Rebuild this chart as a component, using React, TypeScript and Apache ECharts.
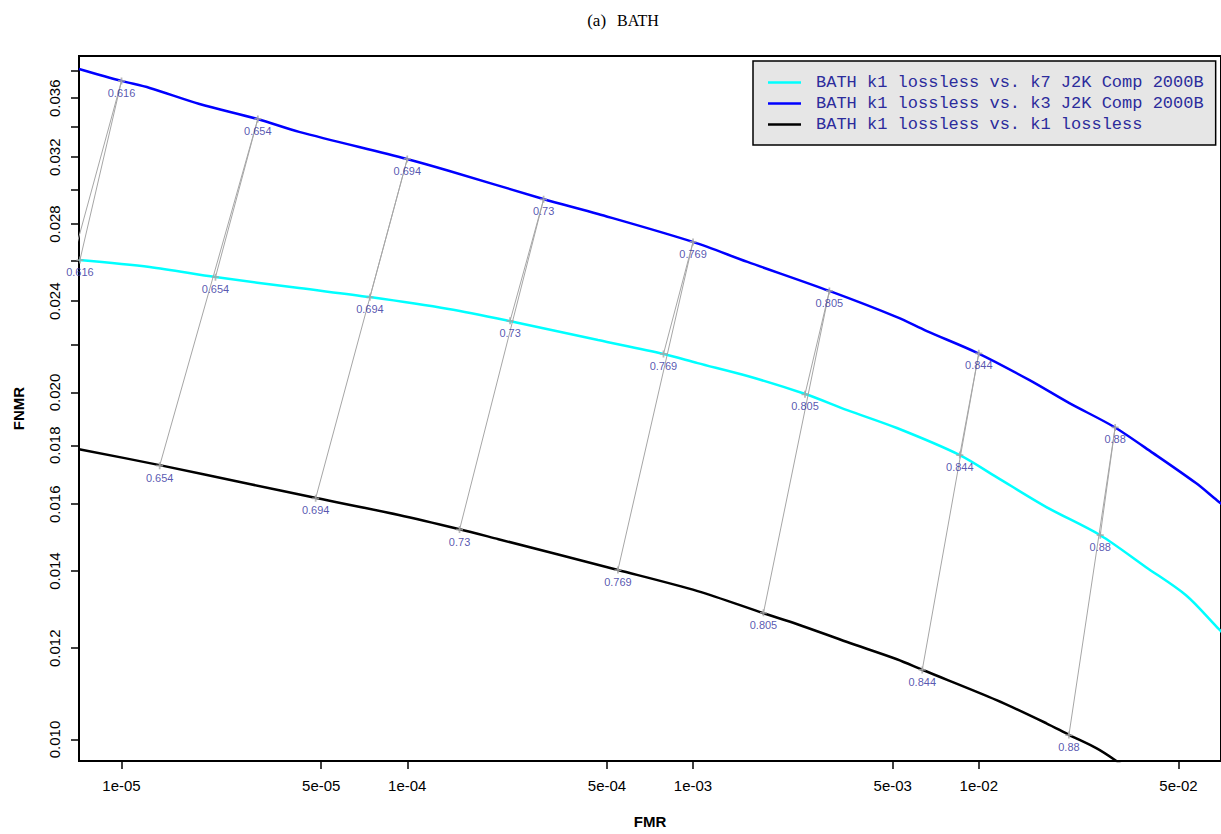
import React, { useEffect, useRef } from "react";
import * as echarts from "echarts";

// ---- Curves (FMR, FNMR) ----
const cyanName = "BATH k1 lossless vs. k7 J2K Comp 2000B";
const blueName = "BATH k1 lossless vs. k3 J2K Comp 2000B";
const blackName = "BATH k1 lossless vs. k1 lossless";

const cyanFMR = [7.10e-6, 1.255e-5, 2.132e-5, 4.184e-5, 7.40e-5, 1.395e-4, 2.277e-4, 4.653e-4, 7.90e-4, 1.038e-3, 1.551e-3, 2.470e-3, 3.462e-3, 5.17e-3, 8.58e-3, 1.154e-2, 1.724e-2, 2.661e-2, 3.848e-2, 5.31e-2, 6.81e-2, 7.378e-2];
const cyanFNMR = [0.02606, 0.02570, 0.02519, 0.02464, 0.02420, 0.02363, 0.02307, 0.02221, 0.02160, 0.02121, 0.02067, 0.01994, 0.01931, 0.01863, 0.01765, 0.01689, 0.01591, 0.01504, 0.01411, 0.01334, 0.01252, 0.01227];

const blueFMR = [7.10e-6, 1.0e-5, 1.255e-5, 1.875e-5, 2.987e-5, 4.184e-5, 9.96e-5, 1.395e-4, 2.991e-4, 4.653e-4, 9.98e-4, 1.551e-3, 2.997e-3, 5.17e-3, 6.58e-3, 9.91e-3, 1.505e-2, 2.075e-2, 2.977e-2, 4.073e-2, 5.752e-2, 6.808e-2, 7.378e-2];
const blueFNMR = [0.03817, 0.03727, 0.03675, 0.03559, 0.03454, 0.03366, 0.03189, 0.03115, 0.02944, 0.02857, 0.02702, 0.02596, 0.02450, 0.02325, 0.02261, 0.02164, 0.02050, 0.01958, 0.01867, 0.01772, 0.01669, 0.01613, 0.01588];

const blackFMR = [7.10e-6, 1.360e-5, 2.803e-5, 4.80e-5, 9.34e-5, 1.524e-4, 2.085e-4, 5.46e-4, 1.038e-3, 1.764e-3, 2.318e-3, 3.462e-3, 5.17e-3, 6.37e-3, 1.154e-2, 1.724e-2, 2.075e-2, 2.577e-2, 2.977e-2, 3.553e-2];
const blackFNMR = [0.01786, 0.01730, 0.01666, 0.01620, 0.01566, 0.01522, 0.01492, 0.01403, 0.01345, 0.01287, 0.01259, 0.01215, 0.01174, 0.01149, 0.01082, 0.01033, 0.01009, 0.00983, 0.00961, 0.00931];

// ---- Threshold points ----
const thresholds = ["0.616", "0.654", "0.694", "0.73", "0.769", "0.805", "0.844", "0.88"];
const blueTFMR = [1e-5, 3e-5, 1e-4, 3e-4, 1e-3, 3e-3, 1e-2, 3e-2];
const blueTFNMR = [0.03727, 0.03454, 0.03189, 0.02942, 0.02702, 0.02450, 0.02163, 0.01865];
const cyanTFMR = [7.155e-6, 2.132e-5, 7.40e-5, 2.290e-4, 7.88e-4, 2.465e-3, 8.58e-3, 2.661e-2];
const cyanTFNMR = [0.02606, 0.02518, 0.02419, 0.02308, 0.02160, 0.01993, 0.01765, 0.01504];
const blackTFMR = [4.565e-6, 1.360e-5, 4.78e-5, 1.524e-4, 5.46e-4, 1.764e-3, 6.34e-3, 2.067e-2];
const blackTFNMR = [0.01830, 0.01728, 0.01619, 0.01521, 0.01403, 0.01288, 0.01149, 0.01009];

// ---- Axes ----
const xRange = [7.10e-6, 0.0704];
const yRange = [0.00958, 0.03917];
const xTickVals = [1e-5, 5e-5, 1e-4, 5e-4, 1e-3, 5e-3, 1e-2, 5e-2];
const xTickLabels = ["1e-05", "5e-05", "1e-04", "5e-04", "1e-03", "5e-03", "1e-02", "5e-02"];
const yTickVals = [0.010, 0.012, 0.014, 0.016, 0.018, 0.020, 0.022, 0.024, 0.026, 0.028, 0.030, 0.032, 0.034, 0.036, 0.038];
const yLabelVals = [0.010, 0.012, 0.014, 0.016, 0.018, 0.020, 0.024, 0.028, 0.032, 0.036];
const yLabelText = ["0.010", "0.012", "0.014", "0.016", "0.018", "0.020", "0.024", "0.028", "0.032", "0.036"];

const L = (v: number) => Math.log10(v);
const pts = (xs: number[], ys: number[]) => xs.map((x, i) => [L(x), L(ys[i])]);
const lookup = (vals: number[], texts: string[], v: number) => {
  const i = vals.findIndex((t) => Math.abs(L(t) - v) < 1e-6);
  return i >= 0 ? texts[i] : "";
};

const SANS = "'Liberation Sans', Arial, Helvetica, sans-serif";
const SERIF = "'Liberation Serif', 'DejaVu Serif', serif";
const LABEL_COLOR = "#2c2c9c";
const GRAY = "#a6a6a6";
const PLUS = "path://M3,0H5V3H8V5H5V8H3V5H0V3H3Z";
const LEGEND_LINE = "path://M0,0H33V2.5H0Z";

export default function App() {
  const ref = useRef<HTMLDivElement>(null);
  useEffect(() => {
    if (!ref.current) return;
    const chart = echarts.init(ref.current, undefined, { renderer: "svg" });

    const connectors: any[] = [];
    thresholds.forEach((_, i) => {
      connectors.push({
        type: "line",
        silent: true,
        symbol: "none",
        clip: true,
        z: 3,
        lineStyle: { color: GRAY, width: 1 },
        data: [
          [L(blackTFMR[i]), L(blackTFNMR[i])],
          [L(blueTFMR[i]), L(blueTFNMR[i])],
        ],
      });
      connectors.push({
        type: "line",
        silent: true,
        symbol: "none",
        clip: true,
        z: 3,
        lineStyle: { color: GRAY, width: 1 },
        data: [
          [L(cyanTFMR[i]), L(cyanTFNMR[i])],
          [L(blueTFMR[i]), L(blueTFNMR[i])],
        ],
      });
    });

    const marks = (xs: number[], ys: number[]) => ({
      type: "scatter",
      silent: true,
      clip: true,
      z: 4,
      symbol: PLUS,
      symbolSize: 7,
      itemStyle: { color: GRAY },
      label: {
        show: true,
        position: "bottom",
        distance: 3,
        color: LABEL_COLOR,
        fontSize: 11,
        fontFamily: SANS,
        formatter: (p: any) => p.value[2],
      },
      data: xs.map((x, i) => [L(x), L(ys[i]), thresholds[i]]),
    });

    const curve = (name: string, color: string, xs: number[], ys: number[]) => ({
      name,
      type: "line",
      symbol: "none",
      smooth: 0.3,
      clip: true,
      z: 2,
      color,
      lineStyle: { color, width: 2.5 },
      data: pts(xs, ys),
    });

    chart.setOption({
      animation: false,
      backgroundColor: "#ffffff",
      title: {
        text: "{a|(a)} {b|BATH}",
        left: 618,
        top: 6,
        textAlign: "center",
        textStyle: {
          fontWeight: "normal",
          rich: {
            a: { fontFamily: SERIF, fontSize: 17, fontWeight: "normal", color: "#000" },
            b: { fontFamily: SERIF, fontSize: 16, fontWeight: "normal", color: "#000", padding: [0, 0, 0, 6] },
          },
        },
      },
      legend: {
        data: [cyanName, blueName, blackName],
        orient: "vertical",
        left: 753,
        top: 61,
        padding: [11, 12, 10, 15],
        itemGap: 0,
        itemWidth: 33,
        itemHeight: 3,
        icon: LEGEND_LINE,
        backgroundColor: "#e6e6e6",
        borderColor: "#000000",
        borderWidth: 1.5,
        borderRadius: 0,
        textStyle: {
          fontFamily: "'Liberation Mono', 'DejaVu Sans Mono', monospace",
          fontSize: 17,
          lineHeight: 21,
          color: LABEL_COLOR,
          padding: [0, 0, 0, 10],
        },
      },
      grid: {
        left: 79,
        right: -4,
        top: 56,
        bottom: 73,
        show: true,
        borderColor: "#000000",
        borderWidth: 2,
        backgroundColor: "transparent",
        containLabel: false,
      },
      xAxis: {
        type: "value",
        min: L(xRange[0]),
        max: L(xRange[1]),
        name: "FMR",
        nameLocation: "middle",
        nameGap: 53,
        nameTextStyle: { fontFamily: SANS, fontSize: 15, fontWeight: "bold", color: "#000" },
        axisLine: { show: false },
        splitLine: { show: false },
        axisTick: {
          show: true,
          length: 8,
          inside: false,
          lineStyle: { color: "#000", width: 1.5 },
          customValues: xTickVals.map(L),
        },
        axisLabel: {
          margin: 17,
          fontFamily: SANS,
          fontSize: 15,
          color: "#000",
          customValues: xTickVals.map(L),
          formatter: (v: number) => lookup(xTickVals, xTickLabels, v),
        },
      },
      yAxis: {
        type: "value",
        min: L(yRange[0]),
        max: L(yRange[1]),
        name: "FNMR",
        nameLocation: "middle",
        nameRotate: 90,
        nameGap: 53,
        nameTextStyle: { fontFamily: SANS, fontSize: 15, fontWeight: "bold", color: "#000" },
        axisLine: { show: false },
        splitLine: { show: false },
        axisTick: {
          show: true,
          length: 8,
          inside: false,
          lineStyle: { color: "#000", width: 1.5 },
          customValues: yTickVals.map(L),
        },
        axisLabel: {
          rotate: 90,
          margin: 17,
          fontFamily: SANS,
          fontSize: 15,
          color: "#000",
          customValues: yLabelVals.map(L),
          formatter: (v: number) => lookup(yLabelVals, yLabelText, v),
        },
      },
      series: [
        curve(cyanName, "#00ffff", cyanFMR, cyanFNMR),
        curve(blueName, "#0000ff", blueFMR, blueFNMR),
        curve(blackName, "#000000", blackFMR, blackFNMR),
        ...connectors,
        marks(blackTFMR, blackTFNMR),
        marks(cyanTFMR, cyanTFNMR),
        marks(blueTFMR, blueTFNMR),
      ],
    });
    return () => chart.dispose();
  }, []);

  return (
    <div
      ref={ref}
      style={{ position: "absolute", left: 0, top: 0, width: 1221, height: 834, background: "#fff" }}
    />
  );
}
